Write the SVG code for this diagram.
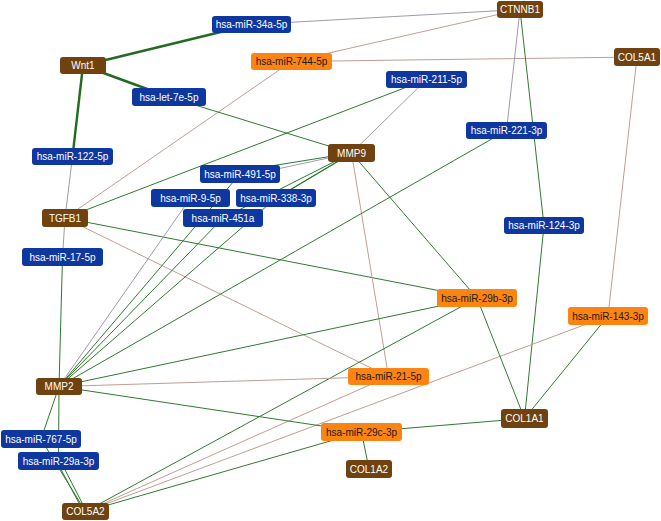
<svg xmlns="http://www.w3.org/2000/svg" width="661" height="521" viewBox="0 0 661 521">
<style>
.e line{fill:none;stroke-width:1}
.e .g{stroke:#2f7a2f}
.e .r{stroke:#c09d95}
.e .y{stroke:#a09aab}
.e .t{stroke:#226b22;stroke-width:2.4}
.n rect{rx:3;ry:3}
.gene rect{fill:#6f4210}
.blue rect{fill:#0f37a0}
.org rect{fill:#fc8412}
text{font-family:"Liberation Sans",Arial,sans-serif;font-size:10px;text-anchor:middle;dominant-baseline:central}
.gene text,.blue text{fill:#ffffff}
.org text{fill:#1a1a1a}
</style>
<rect width="661" height="521" fill="#ffffff"/>
<g id="connectors" class="e">
<line class="t" x1="83" y1="65.5" x2="251.5" y2="24.5"/>
<line class="t" x1="83" y1="65.5" x2="169" y2="97"/>
<line class="t" x1="83" y1="65.5" x2="72.5" y2="156.5"/>
<line class="y" x1="251.5" y1="24.5" x2="520" y2="9.5"/>
<line class="r" x1="291.5" y1="61.5" x2="520" y2="9.5"/>
<line class="r" x1="291.5" y1="61.5" x2="637" y2="57"/>
<line class="r" x1="291.5" y1="61.5" x2="65" y2="218"/>
<line class="g" x1="169" y1="97" x2="351.5" y2="153"/>
<line class="y" x1="426.5" y1="79.5" x2="351.5" y2="153"/>
<line class="g" x1="426.5" y1="79.5" x2="65" y2="218"/>
<line class="y" x1="72.5" y1="156.5" x2="65" y2="218"/>
<line class="y" x1="65" y1="218" x2="62.5" y2="257"/>
<line class="g" x1="62.5" y1="257" x2="59" y2="386.5"/>
<line class="g" x1="65" y1="218" x2="477" y2="298"/>
<line class="r" x1="65" y1="218" x2="388.5" y2="376.5"/>
<line class="g" x1="351.5" y1="153" x2="240" y2="171"/>
<line class="y" x1="351.5" y1="153" x2="240" y2="177"/>
<line class="g" x1="351.5" y1="153" x2="276" y2="198"/>
<line class="g" x1="349" y1="155" x2="270" y2="202"/>
<line class="g" x1="351.5" y1="153" x2="223" y2="218"/>
<line class="r" x1="351.5" y1="153" x2="388.5" y2="376.5"/>
<line class="g" x1="351.5" y1="153" x2="477" y2="298"/>
<line class="y" x1="190.5" y1="198" x2="59" y2="386.5"/>
<line class="g" x1="240" y1="174" x2="59" y2="386.5"/>
<line class="g" x1="223" y1="218" x2="59" y2="386.5"/>
<line class="g" x1="276" y1="198" x2="59" y2="386.5"/>
<line class="g" x1="506.5" y1="130.5" x2="59" y2="386.5"/>
<line class="y" x1="506.5" y1="130.5" x2="520" y2="9.5"/>
<line class="g" x1="520" y1="9.5" x2="544" y2="225.5"/>
<line class="g" x1="544" y1="225.5" x2="524.5" y2="418.5"/>
<line class="r" x1="637" y1="57" x2="608" y2="316"/>
<line class="g" x1="608" y1="316" x2="524.5" y2="418.5"/>
<line class="r" x1="608" y1="316" x2="85.5" y2="511.5"/>
<line class="g" x1="477" y1="298" x2="524.5" y2="418.5"/>
<line class="g" x1="477" y1="298" x2="59" y2="386.5"/>
<line class="g" x1="477" y1="298" x2="85.5" y2="511.5"/>
<line class="r" x1="388.5" y1="376.5" x2="59" y2="386.5"/>
<line class="r" x1="388.5" y1="376.5" x2="85.5" y2="511.5"/>
<line class="g" x1="59" y1="386.5" x2="361.5" y2="432"/>
<line class="g" x1="361.5" y1="432" x2="524.5" y2="418.5"/>
<line class="g" x1="361.5" y1="432" x2="369" y2="469"/>
<line class="g" x1="361.5" y1="432" x2="85.5" y2="511.5"/>
<line class="g" x1="59" y1="386.5" x2="41" y2="439"/>
<line class="g" x1="59" y1="386.5" x2="58.5" y2="461"/>
<line class="g" x1="41" y1="439" x2="85.5" y2="511.5"/>
<line class="g" x1="56.5" y1="461" x2="83.5" y2="511.5"/>
<line class="g" x1="60.5" y1="461" x2="86.5" y2="511.5"/>
</g>
<g id="Wnt1" class="n gene"><rect x="60" y="57" width="46" height="17"/><text x="83" y="65.5">Wnt1</text></g>
<g id="CTNNB1" class="n gene"><rect x="497" y="1" width="46" height="17"/><text x="520" y="9.5">CTNNB1</text></g>
<g id="COL5A1" class="n gene"><rect x="614" y="48" width="46" height="18"/><text x="637" y="57">COL5A1</text></g>
<g id="MMP9" class="n gene"><rect x="328" y="144" width="47" height="18"/><text x="351.5" y="153">MMP9</text></g>
<g id="TGFB1" class="n gene"><rect x="42" y="209" width="46" height="18"/><text x="65" y="218">TGFB1</text></g>
<g id="MMP2" class="n gene"><rect x="36" y="378" width="46" height="17"/><text x="59" y="386.5">MMP2</text></g>
<g id="COL1A1" class="n gene"><rect x="501" y="409" width="47" height="19"/><text x="524.5" y="418.5">COL1A1</text></g>
<g id="COL1A2" class="n gene"><rect x="346" y="460" width="46" height="18"/><text x="369" y="469">COL1A2</text></g>
<g id="COL5A2" class="n gene"><rect x="62" y="503" width="47" height="17"/><text x="85.5" y="511.5">COL5A2</text></g>
<g id="hsa-miR-34a-5p" class="n blue"><rect x="212" y="16" width="79" height="17"/><text x="251.5" y="24.5">hsa-miR-34a-5p</text></g>
<g id="hsa-let-7e-5p" class="n blue"><rect x="132" y="88" width="74" height="18"/><text x="169" y="97">hsa-let-7e-5p</text></g>
<g id="hsa-miR-211-5p" class="n blue"><rect x="386" y="71" width="81" height="17"/><text x="426.5" y="79.5">hsa-miR-211-5p</text></g>
<g id="hsa-miR-122-5p" class="n blue"><rect x="32" y="148" width="81" height="17"/><text x="72.5" y="156.5">hsa-miR-122-5p</text></g>
<g id="hsa-miR-221-3p" class="n blue"><rect x="466" y="122" width="81" height="17"/><text x="506.5" y="130.5">hsa-miR-221-3p</text></g>
<g id="hsa-miR-491-5p" class="n blue"><rect x="200" y="165" width="80" height="18"/><text x="240" y="174">hsa-miR-491-5p</text></g>
<g id="hsa-miR-9-5p" class="n blue"><rect x="151" y="189" width="79" height="18"/><text x="190.5" y="198">hsa-miR-9-5p</text></g>
<g id="hsa-miR-338-3p" class="n blue"><rect x="236" y="189" width="80" height="18"/><text x="276" y="198">hsa-miR-338-3p</text></g>
<g id="hsa-miR-451a" class="n blue"><rect x="183" y="209" width="80" height="18"/><text x="223" y="218">hsa-miR-451a</text></g>
<g id="hsa-miR-17-5p" class="n blue"><rect x="22" y="248" width="81" height="18"/><text x="62.5" y="257">hsa-miR-17-5p</text></g>
<g id="hsa-miR-124-3p" class="n blue"><rect x="504" y="217" width="80" height="17"/><text x="544" y="225.5">hsa-miR-124-3p</text></g>
<g id="hsa-miR-767-5p" class="n blue"><rect x="1" y="430" width="80" height="18"/><text x="41" y="439">hsa-miR-767-5p</text></g>
<g id="hsa-miR-29a-3p" class="n blue"><rect x="18" y="452" width="81" height="18"/><text x="58.5" y="461">hsa-miR-29a-3p</text></g>
<g id="hsa-miR-744-5p" class="n org"><rect x="251" y="53" width="81" height="17"/><text x="291.5" y="61.5">hsa-miR-744-5p</text></g>
<g id="hsa-miR-29b-3p" class="n org"><rect x="437" y="289" width="80" height="18"/><text x="477" y="298">hsa-miR-29b-3p</text></g>
<g id="hsa-miR-143-3p" class="n org"><rect x="568" y="307" width="80" height="18"/><text x="608" y="316">hsa-miR-143-3p</text></g>
<g id="hsa-miR-21-5p" class="n org"><rect x="348" y="368" width="81" height="17"/><text x="388.5" y="376.5">hsa-miR-21-5p</text></g>
<g id="hsa-miR-29c-3p" class="n org"><rect x="321" y="423" width="81" height="18"/><text x="361.5" y="432">hsa-miR-29c-3p</text></g>
</svg>
